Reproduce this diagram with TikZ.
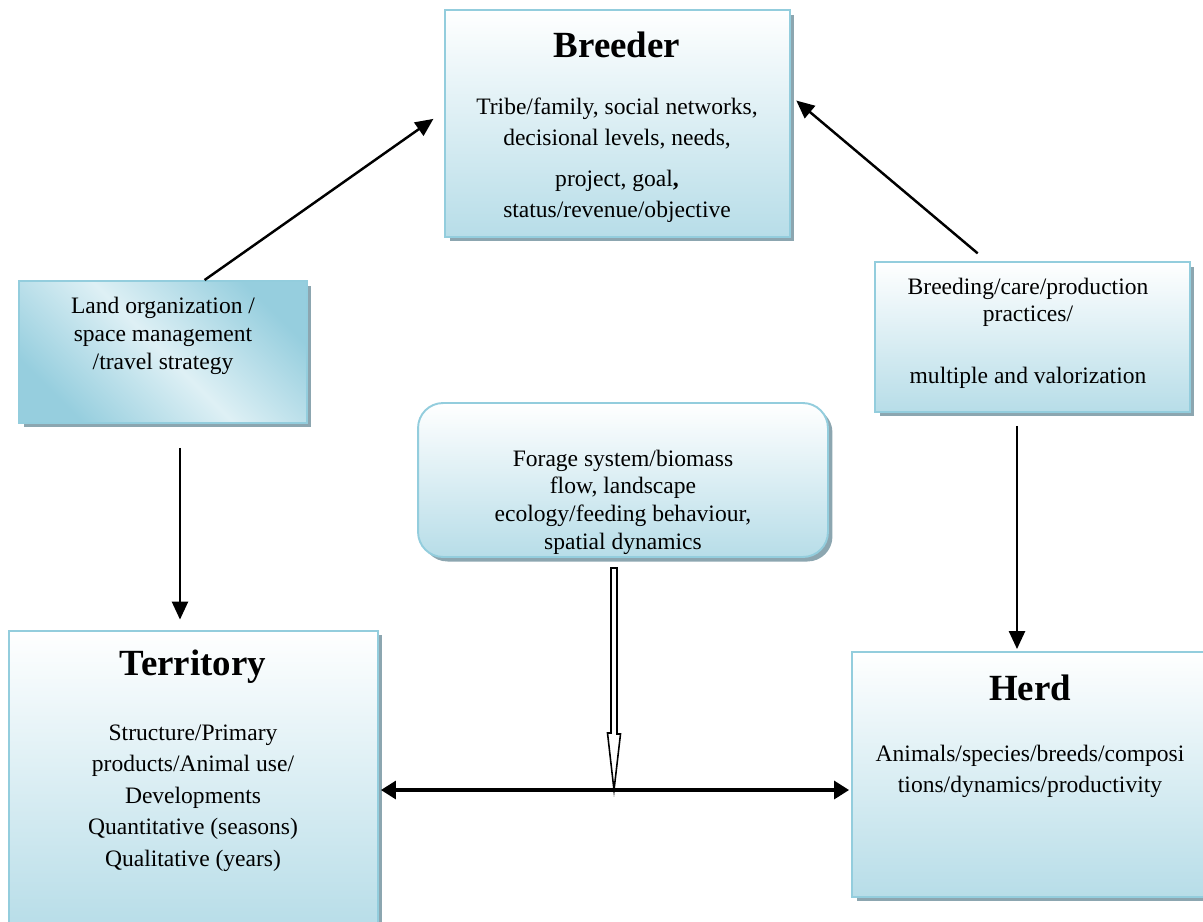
\documentclass[tikz,border=0pt]{standalone}
\usepackage{fontspec}
\setmainfont{Liberation Serif}
\usetikzlibrary{shapes,arrows.meta,positioning,calc,shadows}

\definecolor{boxline}{RGB}{147,205,221}
\definecolor{boxfill}{RGB}{183,221,232}
\definecolor{boxlight}{RGB}{222,240,245}
\definecolor{boxdark}{RGB}{150,206,222}
\definecolor{boxshadow}{RGB}{140,166,176}

\begin{document}
\begin{tikzpicture}[x=0.02cm, y=-0.02cm,
  box/.style={draw=boxline, line width=1.1pt, top color=white, bottom color=boxfill,
    drop shadow={shadow xshift=0.09cm, shadow yshift=-0.09cm, fill=boxshadow, opacity=1},
    inner sep=0pt},
  landshade/.style={top color=boxdark, bottom color=boxdark, middle color=boxlight, shading angle=-45},
  title/.style={font=\fontsize{21}{24}\selectfont\bfseries},
  body/.style={align=center, font=\fontsize{13.4}{17.6}\selectfont},
  arr/.style={-{Triangle[length=0.36cm,width=0.32cm]}, line width=1.4pt},
  arrboth/.style={{Triangle[length=0.3cm,width=0.36cm]}-{Triangle[length=0.3cm,width=0.36cm]}, line width=1.8pt},
  hollow/.style={line width=0.9pt, fill=white},
]
\useasboundingbox (0,0) rectangle (1203,921);

% Breeder
\node[box, minimum width=6.9cm, minimum height=4.54cm] (breeder) at (617.5,123.5) {};
\node[title] (breedertitle) at (617,45) {Breeder};
\node[body] (breederbody) at (617,160) {Tribe/family, social networks,\\decisional levels, needs,\\[6pt]project, goal\textbf{,}\\status/revenue/objective};

% Land organization
\node[box, landshade, minimum width=5.76cm, minimum height=2.84cm] (land) at (163,352) {};
\node[body, font=\fontsize{13.4}{16}\selectfont] (landtext) at (163,336) {Land organization /\\space management\\/travel strategy};

% Breeding practices
\node[box, minimum width=6.3cm, minimum height=3.0cm] (breeding) at (1032.5,337) {};
\node[body, font=\fontsize{13.4}{15.3}\selectfont] (breedingtext) at (1028,333) {Breeding/care/production\\practices/\\[20pt]multiple and valorization};

% Forage system
\node[box, rounded corners=0.5cm, minimum width=8.2cm, minimum height=3.08cm] (forage) at (623,480) {};
\node[body, font=\fontsize{13.4}{15.7}\selectfont] (foragetext) at (623,502) {Forage system/biomass\\flow, landscape\\ecology/feeding behaviour,\\spatial dynamics};

% Territory
\node[box, minimum width=7.38cm, minimum height=5.98cm] (terr) at (193.5,780) {};
\node[title] (terrtitle) at (193,667) {Territory};
\node[body, font=\fontsize{13.4}{17.9}\selectfont] (terrbody) at (193,798) {Structure/Primary\\products/Animal use/\\Developments\\Quantitative (seasons)\\Qualitative (years)};

% Herd
\node[box, minimum width=7.12cm, minimum height=4.9cm] (herd) at (1030,774.5) {};
\node[title] (herdtitle) at (1030,688) {Herd};
\node[body] (herdbody) at (1030,771) {Animals/species/breeds/composi\\tions/dynamics/productivity};

% Links
\draw[arr, shorten >=0.26cm] (land.60) -- (breeder.176);
\draw[arr, shorten <=0.24cm, shorten >=0.14cm] (breeding.121) -- (breeder.9);
\draw[arr, shorten <=0.48cm, shorten >=0.2cm] ([xshift=0.34cm]land.south) -- ([xshift=0.34cm]land.south |- terr.north);
\draw[arr, shorten <=0.26cm, shorten >=0.04cm] ([xshift=-0.31cm]breeding.south) -- ([xshift=-0.31cm]breeding.south |- herd.north);

% Territory <-> Herd, fed by forage
\coordinate (mid) at (614,790);
\draw[arrboth, shorten <=0.04cm, shorten >=0.04cm] (terr.east |- mid) -- (herd.west |- mid);
\coordinate (ftop) at ([xshift=-0.18cm, yshift=-0.2cm]forage.south);
\draw[hollow] (ftop) ++(-3,0) -- ++(6,0) -- ++(0,166) -- ++(3.5,0) -- (mid) -- ++(-6.5,-57) -- ++(3.5,0) -- cycle;

\end{tikzpicture}
\end{document}
